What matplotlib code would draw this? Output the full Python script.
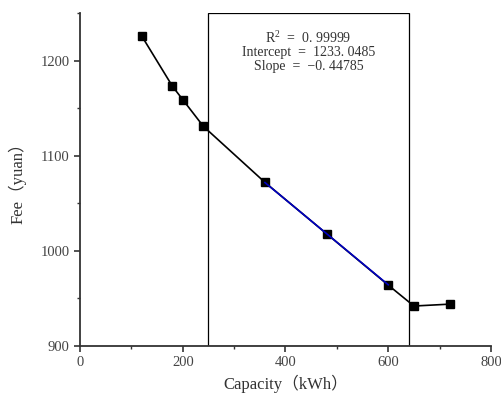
import matplotlib
matplotlib.use("Agg")
import matplotlib.pyplot as plt
from matplotlib.patches import Rectangle
from matplotlib.ticker import MultipleLocator

capacity = [120, 180, 200, 240, 360, 480, 600, 650, 720]
fee = [1226, 1173, 1159, 1131, 1072, 1018, 964, 942, 944]
fit_x = [360, 600]
intercept = 1233.0485
slope = -0.44785
r2 = 0.99999
box_x = [250, 640]

fam = ['Liberation Serif', 'Noto Sans CJK SC']
plt.rcParams['font.family'] = fam
plt.rcParams['mathtext.fontset'] = 'custom'
plt.rcParams['mathtext.rm'] = 'Liberation Serif'

fig = plt.figure(figsize=(5.01, 3.96), dpi=100)
ax = fig.add_axes([0.1597, 0.1263, 0.8203, 0.8407])

ax.plot(capacity, fee, color='black', lw=1.2, marker='s', ms=5.5,
        mfc='black', mec='black', zorder=3)
fy = [intercept + slope * x for x in fit_x]
ax.plot(fit_x, fy, color='#0000c0', lw=1.2, zorder=4)

ax.set_xlim(0, 800)
ax.set_ylim(900, 1250)
ax.add_patch(Rectangle((box_x[0], 900), box_x[1] - box_x[0], 350,
                       fill=False, ec='black', lw=0.9, zorder=2))
ax.text((box_x[0] + box_x[1]) / 2, 1233,
        "R$^\\mathrm{2}$  =  0. 99999\nIntercept  =  1233. 0485\nSlope  =  \u22120. 44785",
        ha='center', va='top', fontsize=10, color='#333333', linespacing=1.05,
        family=fam)

for s in ['top', 'right']:
    ax.spines[s].set_visible(False)
for s in ['left', 'bottom']:
    ax.spines[s].set_linewidth(1.3)
    ax.spines[s].set_color('#333333')

ax.xaxis.set_major_locator(MultipleLocator(200))
ax.xaxis.set_minor_locator(MultipleLocator(100))
ax.yaxis.set_major_locator(MultipleLocator(100))
ax.yaxis.set_minor_locator(MultipleLocator(50))
ax.tick_params(which='major', direction='out', length=4, width=1.2,
               color='#333333', labelsize=10.5, labelcolor='#444444')
ax.tick_params(which='minor', direction='out', length=2.5, width=1.0,
               color='#333333')

ax.set_xlabel("Capacity\uff08kWh\uff09", fontsize=12, color='#333333', labelpad=4)
ax.set_ylabel("Fee\uff08yuan\uff09", fontsize=12, color='#333333', labelpad=10)

fig.savefig("out.png", dpi=100)
